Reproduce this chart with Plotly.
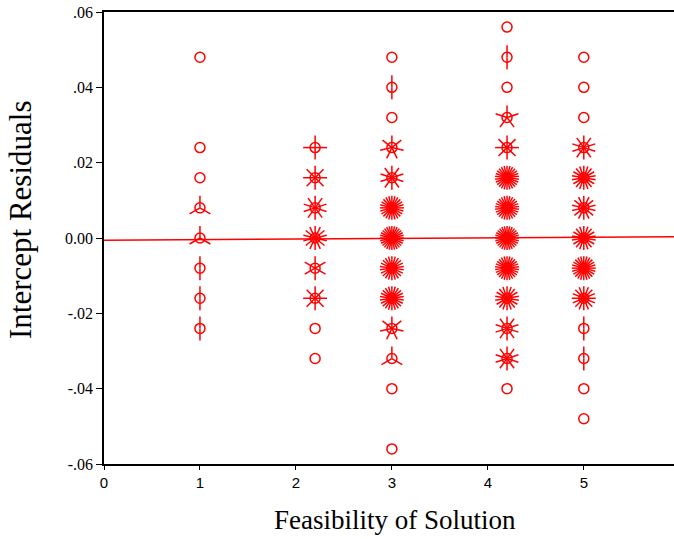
import math
import plotly.graph_objects as go

# ---- data (sunflower plot: each point = residual value with frequency) ----
col_x = [1.0, 2.2, 3.0, 4.2, 5.0]
col1_y = [0.048, 0.024, 0.016, 0.008, 0.000, -0.008, -0.016, -0.024]
col1_n = [1, 1, 1, 3, 3, 2, 2, 2]
col2_y = [0.024, 0.016, 0.008, 0.000, -0.008, -0.016, -0.024, -0.032]
col2_n = [4, 8, 10, 14, 6, 8, 1, 1]
col3_y = [0.048, 0.040, 0.032, 0.024, 0.016, 0.008, 0.000, -0.008, -0.016, -0.024, -0.032, -0.040, -0.056]
col3_n = [1, 2, 1, 7, 10, 24, 28, 22, 22, 7, 3, 1, 1]
col4_y = [0.056, 0.048, 0.040, 0.032, 0.024, 0.016, 0.008, 0.000, -0.008, -0.016, -0.024, -0.032, -0.040]
col4_n = [1, 2, 1, 5, 8, 26, 26, 28, 26, 18, 10, 10, 1]
col5_y = [0.048, 0.040, 0.032, 0.024, 0.016, 0.008, 0.000, -0.008, -0.016, -0.024, -0.032, -0.040, -0.048]
col5_n = [1, 1, 1, 10, 18, 14, 18, 24, 16, 2, 2, 1, 1]

fit_intercept = -0.0006
fit_slope = 0.00016

x_range = [0, 5.94]
y_range = [-0.06, 0.06]
y_ticks = [-0.06, -0.04, -0.02, 0.0, 0.02, 0.04, 0.06]
y_ticklabels = ["-.06", "-.04", "-.02", "0.00", ".02", ".04", ".06"]
x_ticks = [0, 1, 2, 3, 4, 5]
x_title = "Feasibility of Solution"
y_title = "Intercept Residuals"

# ---- layout geometry ----
W, H = 674, 539
ml, mr, mt, mb = 104, 0, 12, 75
pw = W - ml - mr
ph = H - mt - mb
px_per_x = pw / (x_range[1] - x_range[0])
px_per_y = ph / (y_range[1] - y_range[0])
petal_px = 12.0

cols_y = [col1_y, col2_y, col3_y, col4_y, col5_y]
cols_n = [col1_n, col2_n, col3_n, col4_n, col5_n]

px, py = [], []
sx, sy = [], []
for cx, ys, ns in zip(col_x, cols_y, cols_n):
    for yv, n in zip(ys, ns):
        px.append(cx)
        py.append(yv)
        if n >= 2:
            for k in range(n):
                a = math.pi / 2 + 2 * math.pi * k / n
                sx += [cx, cx + petal_px * math.cos(a) / px_per_x, None]
                sy += [yv, yv + petal_px * math.sin(a) / px_per_y, None]

SERIF = "Times New Roman, Liberation Serif, serif"
SANS = "Arial, Liberation Sans, sans-serif"
red = "#ff0000"
fig = go.Figure()
fig.add_trace(go.Scatter(x=sx, y=sy, mode="lines",
                         line=dict(color=red, width=1.5),
                         hoverinfo="skip", showlegend=False))
fig.add_trace(go.Scatter(x=px, y=py, mode="markers",
                         marker=dict(symbol="circle-open", size=10, color=red,
                                     line=dict(color=red, width=1.5)),
                         showlegend=False))
fig.add_trace(go.Scatter(x=x_range, y=[fit_intercept + fit_slope * v for v in x_range],
                         mode="lines", line=dict(color=red, width=1.5),
                         showlegend=False))

fig.update_layout(
    width=W, height=H,
    margin=dict(l=ml, r=mr, t=mt, b=mb, pad=0),
    paper_bgcolor="white", plot_bgcolor="white",
    xaxis=dict(range=x_range, tickvals=x_ticks, ticks="outside", ticklen=4,
               tickcolor="black", showline=True, linecolor="black", linewidth=1.5,
               mirror=True, showgrid=False, zeroline=False,
               tickfont=dict(family=SANS, size=15, color="black")),
    yaxis=dict(range=y_range, tickvals=y_ticks, ticktext=y_ticklabels,
               ticks="outside", ticklen=6, tickcolor="black",
               showline=True, linecolor="black", linewidth=1.5,
               showgrid=False, zeroline=False,
               tickfont=dict(family=SERIF, size=16, color="black")),
    annotations=[
        dict(text=x_title, xref="paper", yref="paper",
             x=(395 - ml) / pw, y=(mt + ph - 520) / ph,
             xanchor="center", yanchor="middle", showarrow=False,
             font=dict(family=SERIF, size=27, color="black")),
        dict(text=y_title, xref="paper", yref="paper",
             x=(20 - ml) / pw, y=(mt + ph - 220) / ph,
             xanchor="center", yanchor="middle", showarrow=False, textangle=-90,
             font=dict(family=SERIF, size=31, color="black")),
    ],
)

fig.write_html("out.html")
